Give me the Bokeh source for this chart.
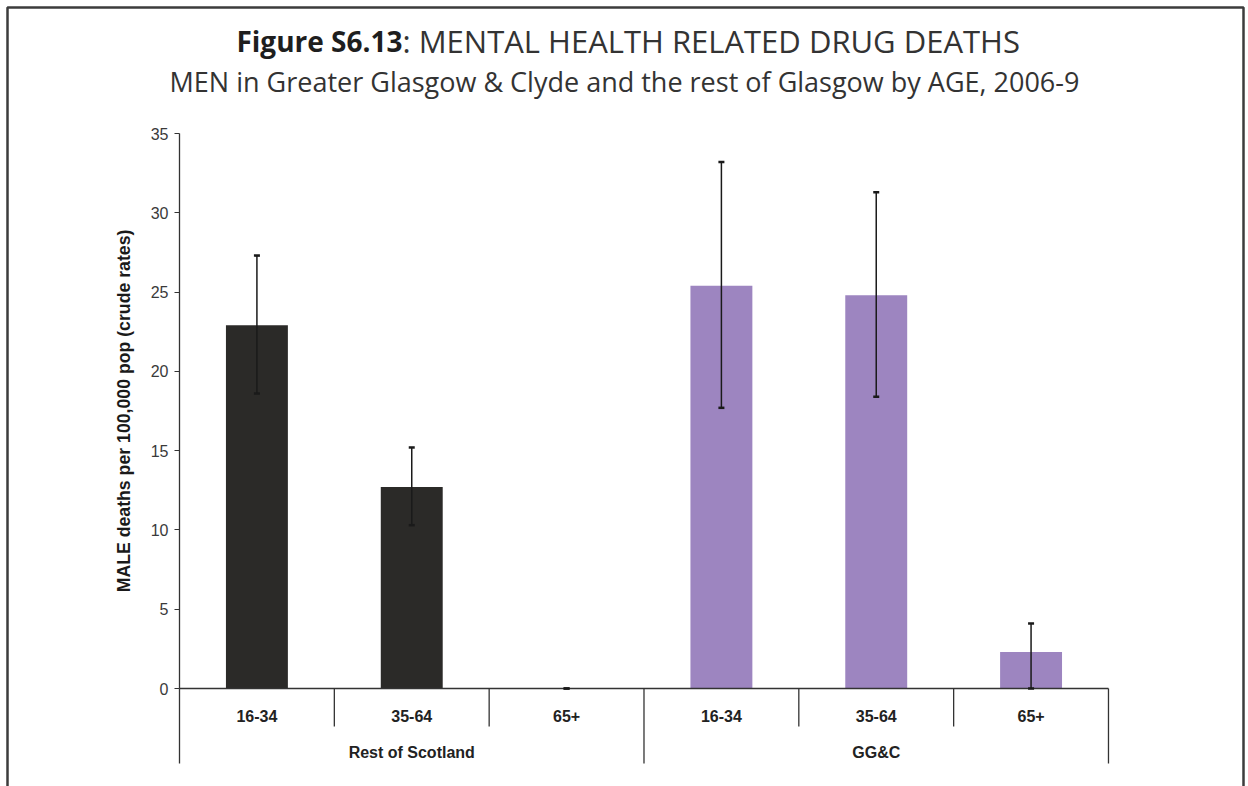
from bokeh.plotting import figure
from bokeh.models import (Range1d, LinearAxis, FixedTicker, Whisker, ColumnDataSource,
                          Label, BoxAnnotation, TeeHead)
from bokeh.core.properties import value
from bokeh.embed import file_html
from bokeh.resources import INLINE

# ---------------- data ----------------
groups = ["Rest of Scotland", "GG&C"]
ages = ["16-34", "35-64", "65+"]
rest_rate = [22.9, 12.7, 0.0]
rest_lower = [18.6, 10.3, 0.0]
rest_upper = [27.3, 15.2, 0.0]
ggc_rate = [25.4, 24.8, 2.3]
ggc_lower = [17.7, 18.4, 0.0]
ggc_upper = [33.2, 31.3, 4.1]
y_ticks = [0, 5, 10, 15, 20, 25, 30, 35]
y_label = "MALE deaths per 100,000 pop (crude rates)"
title_bold = "Figure S6.13"
title_rest = ": MENTAL HEALTH RELATED DRUG DEATHS"
subtitle = "MEN in Greater Glasgow & Clyde and the rest of Glasgow by AGE, 2006-9"

# ---------------- geometry (pixels) ----------------
W, H = 1248, 786
AXIS_PX = 179          # y axis position
CAT_PX = 154.83        # width of one category slot
ZERO_PX = 688          # pixel row of y = 0
UNIT_PX = 15.857       # pixels per y unit

def px2x(px):
    return (px - AXIS_PX) / CAT_PX

def py2y(py):
    return (ZERO_PX - py) / UNIT_PX

DARK = "#2b2a28"
PURPLE = "#9d85c0"
AXIS = "#333333"
FONT = "Liberation Sans"

p = figure(width=W, height=H, output_backend="svg", toolbar_location=None,
           x_range=Range1d(px2x(0), px2x(W)), y_range=Range1d(py2y(H), py2y(0)),
           x_axis_type=None, y_axis_type=None,
           min_border_left=0, min_border_right=0,
           min_border_top=0, min_border_bottom=0)
p.outline_line_color = None
p.background_fill_color = "white"
p.border_fill_color = "white"

n_cat = len(ages) * len(groups)
y_min, y_max = min(y_ticks), max(y_ticks)

# y axis (fixed at x = 0, inside the full-canvas frame)
yaxis = LinearAxis(ticker=FixedTicker(ticks=y_ticks), bounds=(y_min, y_max),
                   axis_label=y_label, fixed_location=0)
yaxis.axis_line_color = AXIS
yaxis.axis_line_width = 1.3
yaxis.major_tick_line_color = AXIS
yaxis.major_tick_out = 5
yaxis.major_tick_in = 0
yaxis.minor_tick_line_color = None
yaxis.major_label_text_font = FONT
yaxis.major_label_text_font_size = "16px"
yaxis.major_label_text_color = "#3a3a3a"
yaxis.major_label_standoff = 6
yaxis.axis_label_text_font = FONT
yaxis.axis_label_text_font_size = "17.7px"
yaxis.axis_label_text_font_style = "bold"
yaxis.axis_label_text_color = "#1a1a1a"
yaxis.axis_label_standoff = 14
p.add_layout(yaxis, "left")

# bars
x_rest = [i + 0.5 for i in range(len(ages))]
x_ggc = [len(ages) + i + 0.5 for i in range(len(ages))]
p.vbar(x=x_rest, top=rest_rate, width=0.4, fill_color=DARK, line_color=None)
p.vbar(x=x_ggc, top=ggc_rate, width=0.4, fill_color=PURPLE, line_color=None)

# error bars
err_src = ColumnDataSource(dict(x=x_rest + x_ggc, lower=rest_lower + ggc_lower,
                                upper=rest_upper + ggc_upper))
wh = Whisker(source=err_src, base="x", lower="lower", upper="upper",
             line_color="#1a1a1a", line_width=1.5, level="overlay",
             upper_head=TeeHead(size=6, line_width=2.5, line_color="#1a1a1a"),
             lower_head=TeeHead(size=6, line_width=2.5, line_color="#1a1a1a"))
p.add_layout(wh)

# category axis: baseline + separators (group separators run down to the group labels)
long_y = py2y(763)
short_y = py2y(726)
p.segment(x0=[0], y0=[0], x1=[n_cat], y1=[0], line_color=AXIS, line_width=1.3)
sep_x = list(range(0, n_cat + 1))
sep_y1 = [long_y if i % len(ages) == 0 else short_y for i in sep_x]
p.segment(x0=sep_x, y0=[0] * len(sep_x), x1=sep_x, y1=sep_y1,
          line_color=AXIS, line_width=1.3)

# category labels
p.text(x=x_rest + x_ggc, y=[py2y(715)] * n_cat, text=ages * len(groups),
       text_align="center", text_baseline="middle",
       text_font=value(FONT), text_font_size="16px", text_font_style="bold",
       text_color="#222222")
p.text(x=[len(ages) * (g + 0.5) for g in range(len(groups))],
       y=[py2y(752)] * len(groups), text=groups,
       text_align="center", text_baseline="middle",
       text_font=value(FONT), text_font_size="16px", text_font_style="bold",
       text_color="#222222")

# titles
split = px2x(402)
p.add_layout(Label(x=split, y=py2y(40), text=title_bold, text_align="right",
                   text_baseline="alphabetic", text_font="Open Sans",
                   text_font_size="28px", text_font_style="bold", text_color="#1e1e1e"))
p.add_layout(Label(x=split, y=py2y(40), text=title_rest, text_align="left",
                   text_baseline="alphabetic", text_font="Open Sans",
                   text_font_size="31px", text_color="#333333"))
p.add_layout(Label(x=px2x(624), y=py2y(81), text=subtitle, text_align="center",
                   text_baseline="alphabetic", text_font="Open Sans",
                   text_font_size="27px", text_color="#333333"))

# outer frame of the figure box
p.add_layout(BoxAnnotation(left=7, right=1243, top=7, bottom=800,
                           left_units="canvas", right_units="canvas",
                           top_units="canvas", bottom_units="canvas",
                           fill_alpha=0, line_color="#3c3c3c", line_alpha=1.0,
                           line_width=2.5))

open("out.html", "w").write(file_html(p, INLINE))
